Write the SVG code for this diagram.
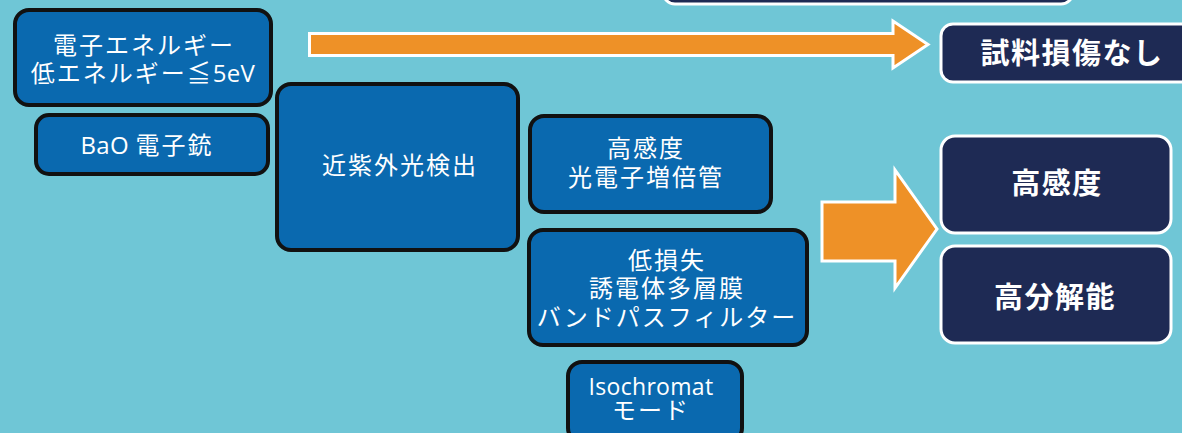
<svg xmlns="http://www.w3.org/2000/svg" width="1182" height="433" viewBox="0 0 1182 433">
<style>
.bg{fill:#6FC6D6}
.blue{fill:#0A69AF;stroke:#111;stroke-width:4}
.navy{fill:#1E2A54;stroke:#fff;stroke-width:3}
.arrow{fill:#EE9127;stroke:#fff;stroke-width:3;stroke-linejoin:miter}
.t{fill:#fff;font-family:"Open Sans","Noto Sans CJK JP",sans-serif;font-size:24px;text-anchor:middle;letter-spacing:2px}
.l{letter-spacing:0.3px}
.s{font-size:23px;letter-spacing:0.3px}
.b{fill:#fff;font-family:"Noto Sans CJK JP",sans-serif;font-size:29px;font-weight:bold;text-anchor:middle;letter-spacing:1.5px}
</style>
<rect class="bg" x="0" y="0" width="1182" height="433"/>
<g id="connectors">
<path class="arrow" d="M309.5 33.5 H893 V21 L928 44.5 L893 68 V55.5 H309.5 Z"/>
<path class="arrow" d="M822 202 H895 V170 L937 229 L895 288 V261 H822 Z"/>
</g>
<g id="top-box"><rect class="navy" x="663" y="-40" width="410" height="44" rx="12"/></g>
<g id="n1"><rect class="blue" x="15" y="10" width="256" height="95" rx="14"/>
<text class="t" x="144" y="54">電子エネルギー</text>
<text class="t" x="143" y="82">低エネルギー≦<tspan class="l">5eV</tspan></text></g>
<g id="n2"><rect class="blue" x="36" y="115" width="232" height="59" rx="13"/>
<text class="t" x="147" y="154"><tspan class="l">BaO </tspan>電子銃</text></g>
<g id="n3"><rect class="blue" x="277" y="84" width="241" height="166" rx="14"/>
<text class="t" x="400" y="174">近紫外光検出</text></g>
<g id="n4"><rect class="blue" x="530" y="116" width="241" height="96" rx="14"/>
<text class="t" x="646" y="157">高感度</text>
<text class="t" x="646" y="186">光電子増倍管</text></g>
<g id="n5"><rect class="blue" x="529" y="230" width="278" height="115" rx="14"/>
<text class="t" x="667" y="269">低損失</text>
<text class="t" x="667" y="297">誘電体多層膜</text>
<text class="t" x="667" y="326">バンドパスフィルター</text></g>
<g id="n6"><rect class="blue" x="568" y="362" width="174" height="80" rx="14"/>
<text class="t s" x="651" y="395">Isochromat</text>
<text class="t" x="651" y="419">モード</text></g>
<g id="r1"><rect class="navy" x="941" y="24" width="260" height="58" rx="12"/>
<text class="b" x="1072" y="64">試料損傷なし</text></g>
<g id="r2"><rect class="navy" x="941" y="136" width="230" height="97" rx="14"/>
<text class="b" x="1057" y="194">高感度</text></g>
<g id="r3"><rect class="navy" x="941" y="246" width="230" height="97" rx="14"/>
<text class="b" x="1055" y="308">高分解能</text></g>
</svg>
